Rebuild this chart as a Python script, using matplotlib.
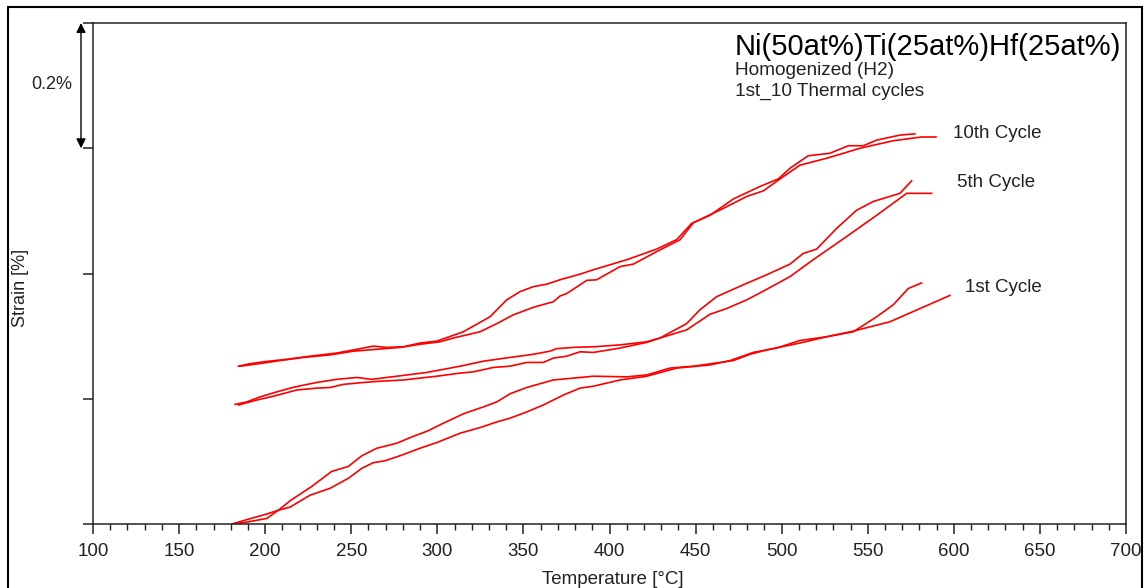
import numpy as np
import matplotlib
matplotlib.use("Agg")
import matplotlib.pyplot as plt
from matplotlib.patches import Rectangle
from matplotlib.ticker import MultipleLocator

plt.rcParams['font.family'] = ['Liberation Sans', 'DejaVu Sans']

# Thermal cycling under load: temperature [°C] vs strain [%], two branches per cycle
c1_a_T = [180.6, 189.3, 200.9, 207.6, 214.4, 227.0, 238.6, 248.3, 256.1, 264.8, 276.4, 285.1,
          294.7, 303.5, 315.1, 326.7, 334.5, 342.2, 351.9, 367.3, 382.9, 390.6, 410.0, 421.6,
          435.1, 448.7, 464.2, 471.9, 481.6, 491.3, 510.6, 526.1, 541.6, 555.2, 564.8, 573.5, 581.3]
c1_a_s = [0.000, 0.003, 0.009, 0.022, 0.037, 0.060, 0.084, 0.092, 0.109, 0.121, 0.129, 0.139,
          0.149, 0.161, 0.176, 0.187, 0.195, 0.208, 0.218, 0.230, 0.234, 0.236, 0.235, 0.238,
          0.249, 0.252, 0.258, 0.261, 0.271, 0.278, 0.289, 0.299, 0.307, 0.331, 0.350, 0.376, 0.385]
c1_b_T = [180.6, 189.3, 200.9, 207.6, 214.4, 226.0, 237.6, 248.3, 256.1, 262.8, 269.6, 279.3,
          289.9, 299.6, 313.2, 324.8, 334.5, 342.2, 351.9, 361.5, 373.2, 382.9, 390.6, 406.1,
          421.6, 439.0, 458.4, 470.0, 483.5, 497.1, 510.6, 526.1, 541.6, 562.9, 597.7]
c1_b_s = [0.000, 0.007, 0.016, 0.022, 0.027, 0.046, 0.057, 0.073, 0.089, 0.098, 0.101, 0.110,
          0.121, 0.130, 0.145, 0.154, 0.163, 0.169, 0.179, 0.190, 0.206, 0.217, 0.220, 0.230,
          0.236, 0.249, 0.254, 0.261, 0.274, 0.281, 0.293, 0.299, 0.308, 0.323, 0.365]

c5_a_T = [182.5, 189.3, 197.0, 206.7, 217.3, 229.9, 241.5, 253.2, 261.9, 270.6, 282.2, 293.8,
          301.5, 313.2, 326.7, 342.2, 355.7, 365.4, 369.3, 379.0, 390.6, 406.1, 421.6, 429.3,
          444.8, 452.5, 462.2, 477.7, 491.3, 504.8, 512.5, 520.3, 531.9, 543.5, 553.2, 568.7, 575.5]
c5_a_s = [0.191, 0.195, 0.203, 0.211, 0.219, 0.226, 0.231, 0.234, 0.231, 0.234, 0.238, 0.242,
          0.246, 0.252, 0.260, 0.266, 0.271, 0.276, 0.280, 0.282, 0.283, 0.286, 0.291, 0.297,
          0.320, 0.342, 0.363, 0.382, 0.398, 0.415, 0.432, 0.439, 0.472, 0.501, 0.515, 0.528, 0.548]
c5_b_T = [184.4, 195.1, 204.7, 218.3, 229.9, 237.6, 245.4, 257.0, 266.7, 280.2, 289.9, 299.6,
          313.2, 320.9, 332.5, 342.2, 351.9, 361.5, 367.4, 375.1, 382.9, 390.6, 406.1, 421.6,
          429.3, 444.8, 458.4, 468.0, 479.7, 487.4, 504.8, 518.3, 537.7, 555.2, 572.6, 587.1]
c5_b_s = [0.190, 0.198, 0.204, 0.214, 0.217, 0.218, 0.223, 0.226, 0.228, 0.230, 0.233, 0.236,
          0.241, 0.243, 0.250, 0.252, 0.258, 0.258, 0.265, 0.268, 0.275, 0.274, 0.281, 0.290,
          0.297, 0.310, 0.335, 0.344, 0.358, 0.369, 0.395, 0.422, 0.459, 0.493, 0.528, 0.528]

c10_a_T = [184.4, 191.2, 198.9, 212.5, 226.0, 241.5, 253.2, 262.8, 270.6, 280.2, 289.9, 299.6,
           315.1, 330.6, 340.3, 348.0, 355.7, 363.5, 371.2, 382.9, 390.6, 410.0, 427.4, 439.0,
           447.7, 458.4, 471.9, 487.4, 498.0, 504.8, 515.4, 528.0, 538.7, 547.4, 555.2, 568.7, 577.4]
c10_a_s = [0.252, 0.256, 0.259, 0.263, 0.268, 0.273, 0.279, 0.284, 0.282, 0.283, 0.289, 0.292,
           0.307, 0.331, 0.358, 0.371, 0.379, 0.383, 0.390, 0.399, 0.406, 0.422, 0.439, 0.454,
           0.480, 0.493, 0.519, 0.539, 0.551, 0.568, 0.588, 0.592, 0.604, 0.604, 0.613, 0.621, 0.623]
c10_b_T = [185.4, 198.9, 208.6, 222.1, 237.6, 251.2, 264.8, 278.3, 289.9, 301.5, 309.3, 324.8,
           334.5, 344.1, 355.7, 367.4, 371.2, 375.1, 382.9, 386.7, 392.5, 406.1, 413.8, 427.4,
           441.0, 448.7, 466.1, 479.7, 489.4, 498.0, 510.6, 526.1, 545.5, 564.8, 581.3, 589.6]
c10_b_s = [0.252, 0.257, 0.261, 0.266, 0.270, 0.276, 0.279, 0.282, 0.287, 0.291, 0.297, 0.307,
           0.320, 0.334, 0.346, 0.355, 0.364, 0.368, 0.382, 0.389, 0.390, 0.411, 0.415, 0.435,
           0.454, 0.481, 0.504, 0.523, 0.532, 0.549, 0.573, 0.584, 0.600, 0.612, 0.618, 0.618]

cycle_labels = ['1st Cycle', '5th Cycle', '10th Cycle']
label_T = [606.5, 601.8, 599.5]
label_s = [0.377, 0.545, 0.624]

fig = plt.figure(figsize=(11.46, 5.88), dpi=100)
ax = fig.add_axes([0.0812, 0.1088, 0.9013, 0.8521])

for T, s in [(c1_a_T, c1_a_s), (c1_b_T, c1_b_s), (c5_a_T, c5_a_s), (c5_b_T, c5_b_s),
             (c10_a_T, c10_a_s), (c10_b_T, c10_b_s)]:
    ax.plot(T, s, color='red', lw=1.2)

for lab, T, s in zip(cycle_labels, label_T, label_s):
    ax.text(T, s, lab, fontsize=13.5, ha='left', va='center', color='#222222')

ax.set_xlim(100, 700)
ax.set_ylim(0, 0.8)
ax.xaxis.set_major_locator(MultipleLocator(50))
ax.xaxis.set_minor_locator(MultipleLocator(10))
ax.yaxis.set_major_locator(MultipleLocator(0.2))
ax.set_yticklabels([])
ax.tick_params(axis='x', which='major', direction='out', length=7, width=1.1,
               labelsize=13.5, pad=7, colors='#222222')
ax.tick_params(axis='x', which='minor', direction='out', length=4.5, width=1.0, colors='#222222')
ax.tick_params(axis='y', which='major', direction='out', length=7.2, width=1.1, colors='#222222')
for sp in ax.spines.values():
    sp.set_linewidth(1.1)
    sp.set_color('#222222')

# scale bar for 0.2 % strain
ax.annotate('', xy=(93.0, 0.8), xytext=(93.0, 0.6),
            arrowprops=dict(arrowstyle='<|-|>', color='black', lw=1.0,
                            mutation_scale=14, shrinkA=0, shrinkB=0),
            annotation_clip=False)
ax.text(76.2, 0.701, '0.2%', fontsize=13, ha='center', va='center',
        color='#222222', clip_on=False)

fig.text(0.6414, 0.9065, 'Ni(50at%)Ti(25at%)Hf(25at%)', fontsize=21, ha='left',
         va='baseline', color='black')
fig.text(0.6414, 0.8724, 'Homogenized (H2)', fontsize=13.7, ha='left', va='baseline',
         color='#222222')
fig.text(0.6414, 0.8367, '1st_10 Thermal cycles', fontsize=13.7, ha='left', va='baseline',
         color='#222222')

fig.text(0.0175, 0.51, 'Strain [%]', fontsize=13, rotation=90, ha='center', va='center',
         color='#222222')
fig.text(0.535, 0.015, 'Temperature [°C]', fontsize=13.5, ha='center', va='center',
         color='#222222')

# outer frame around the whole plot
fig.patches.append(Rectangle((0.007, -0.05), 0.9895, 1.038, transform=fig.transFigure,
                             fill=False, edgecolor='black', lw=1.5))

fig.savefig('out.png', dpi=100)
